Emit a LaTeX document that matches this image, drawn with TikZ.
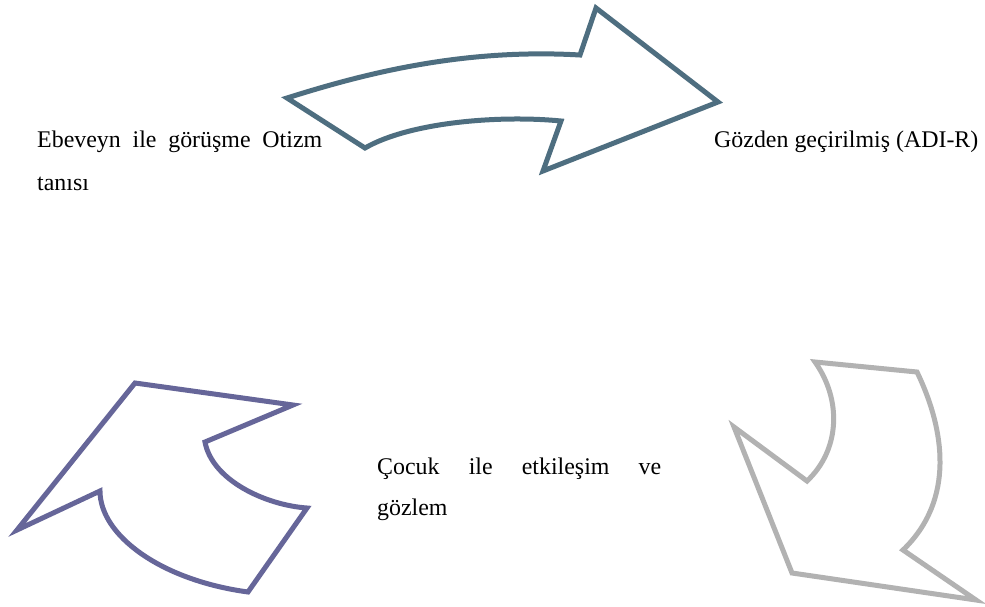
\documentclass[tikz,border=0pt]{standalone}
\usepackage{fontspec}
\setmainfont{Liberation Serif}
\definecolor{arrowblue}{RGB}{78,110,128}
\definecolor{arrowpurple}{RGB}{102,102,153}
\definecolor{arrowgray}{RGB}{178,178,178}
\begin{document}
\begin{tikzpicture}[x=1pt,y=-1pt,
  bigarrow/.style={line width=5pt, line join=miter, fill=white},
  label/.style={anchor=base west, inner sep=0pt, font=\fontsize{23.9}{28}\selectfont}]
\useasboundingbox (0,0) rectangle (985,607);
% top arrow
\draw[bigarrow, draw=arrowblue] (287,98) .. controls (360,75) and (460,48) .. (580,55)
  -- (596,8) -- (718,102) -- (543,171) -- (561,121)
  .. controls (500,115) and (410,122) .. (365,148) -- cycle;
% bottom-left arrow
\draw[bigarrow, draw=arrowpurple] (135,383) -- (293,405) -- (205,442)
  .. controls (212,480) and (265,505) .. (307,508) -- (248,592)
  .. controls (160,580) and (100,535) .. (100,491) -- (17,530) -- cycle;
% bottom-right arrow
\draw[bigarrow, draw=arrowgray] (815,362) -- (917,372)
  .. controls (945,430) and (955,500) .. (903,550) -- (976,600) -- (792,573)
  -- (734,427) -- (807,481) .. controls (840,450) and (842,400) .. (815,362) -- cycle;
% texts
\node[label] (t1a) at (37,148) {\hbox to 285pt{Ebeveyn\hfill ile\hfill görüşme\hfill Otizm}};
\node[label] (t1b) at (37,190) {tanısı};
\node[label] (t2) at (714,148) {Gözden geçirilmiş (ADI-R)};
\node[label] (t3a) at (377,474) {\hbox to 284pt{Çocuk\hfill ile\hfill etkileşim\hfill ve}};
\node[label] (t3b) at (377,515) {gözlem};
\end{tikzpicture}
\end{document}
